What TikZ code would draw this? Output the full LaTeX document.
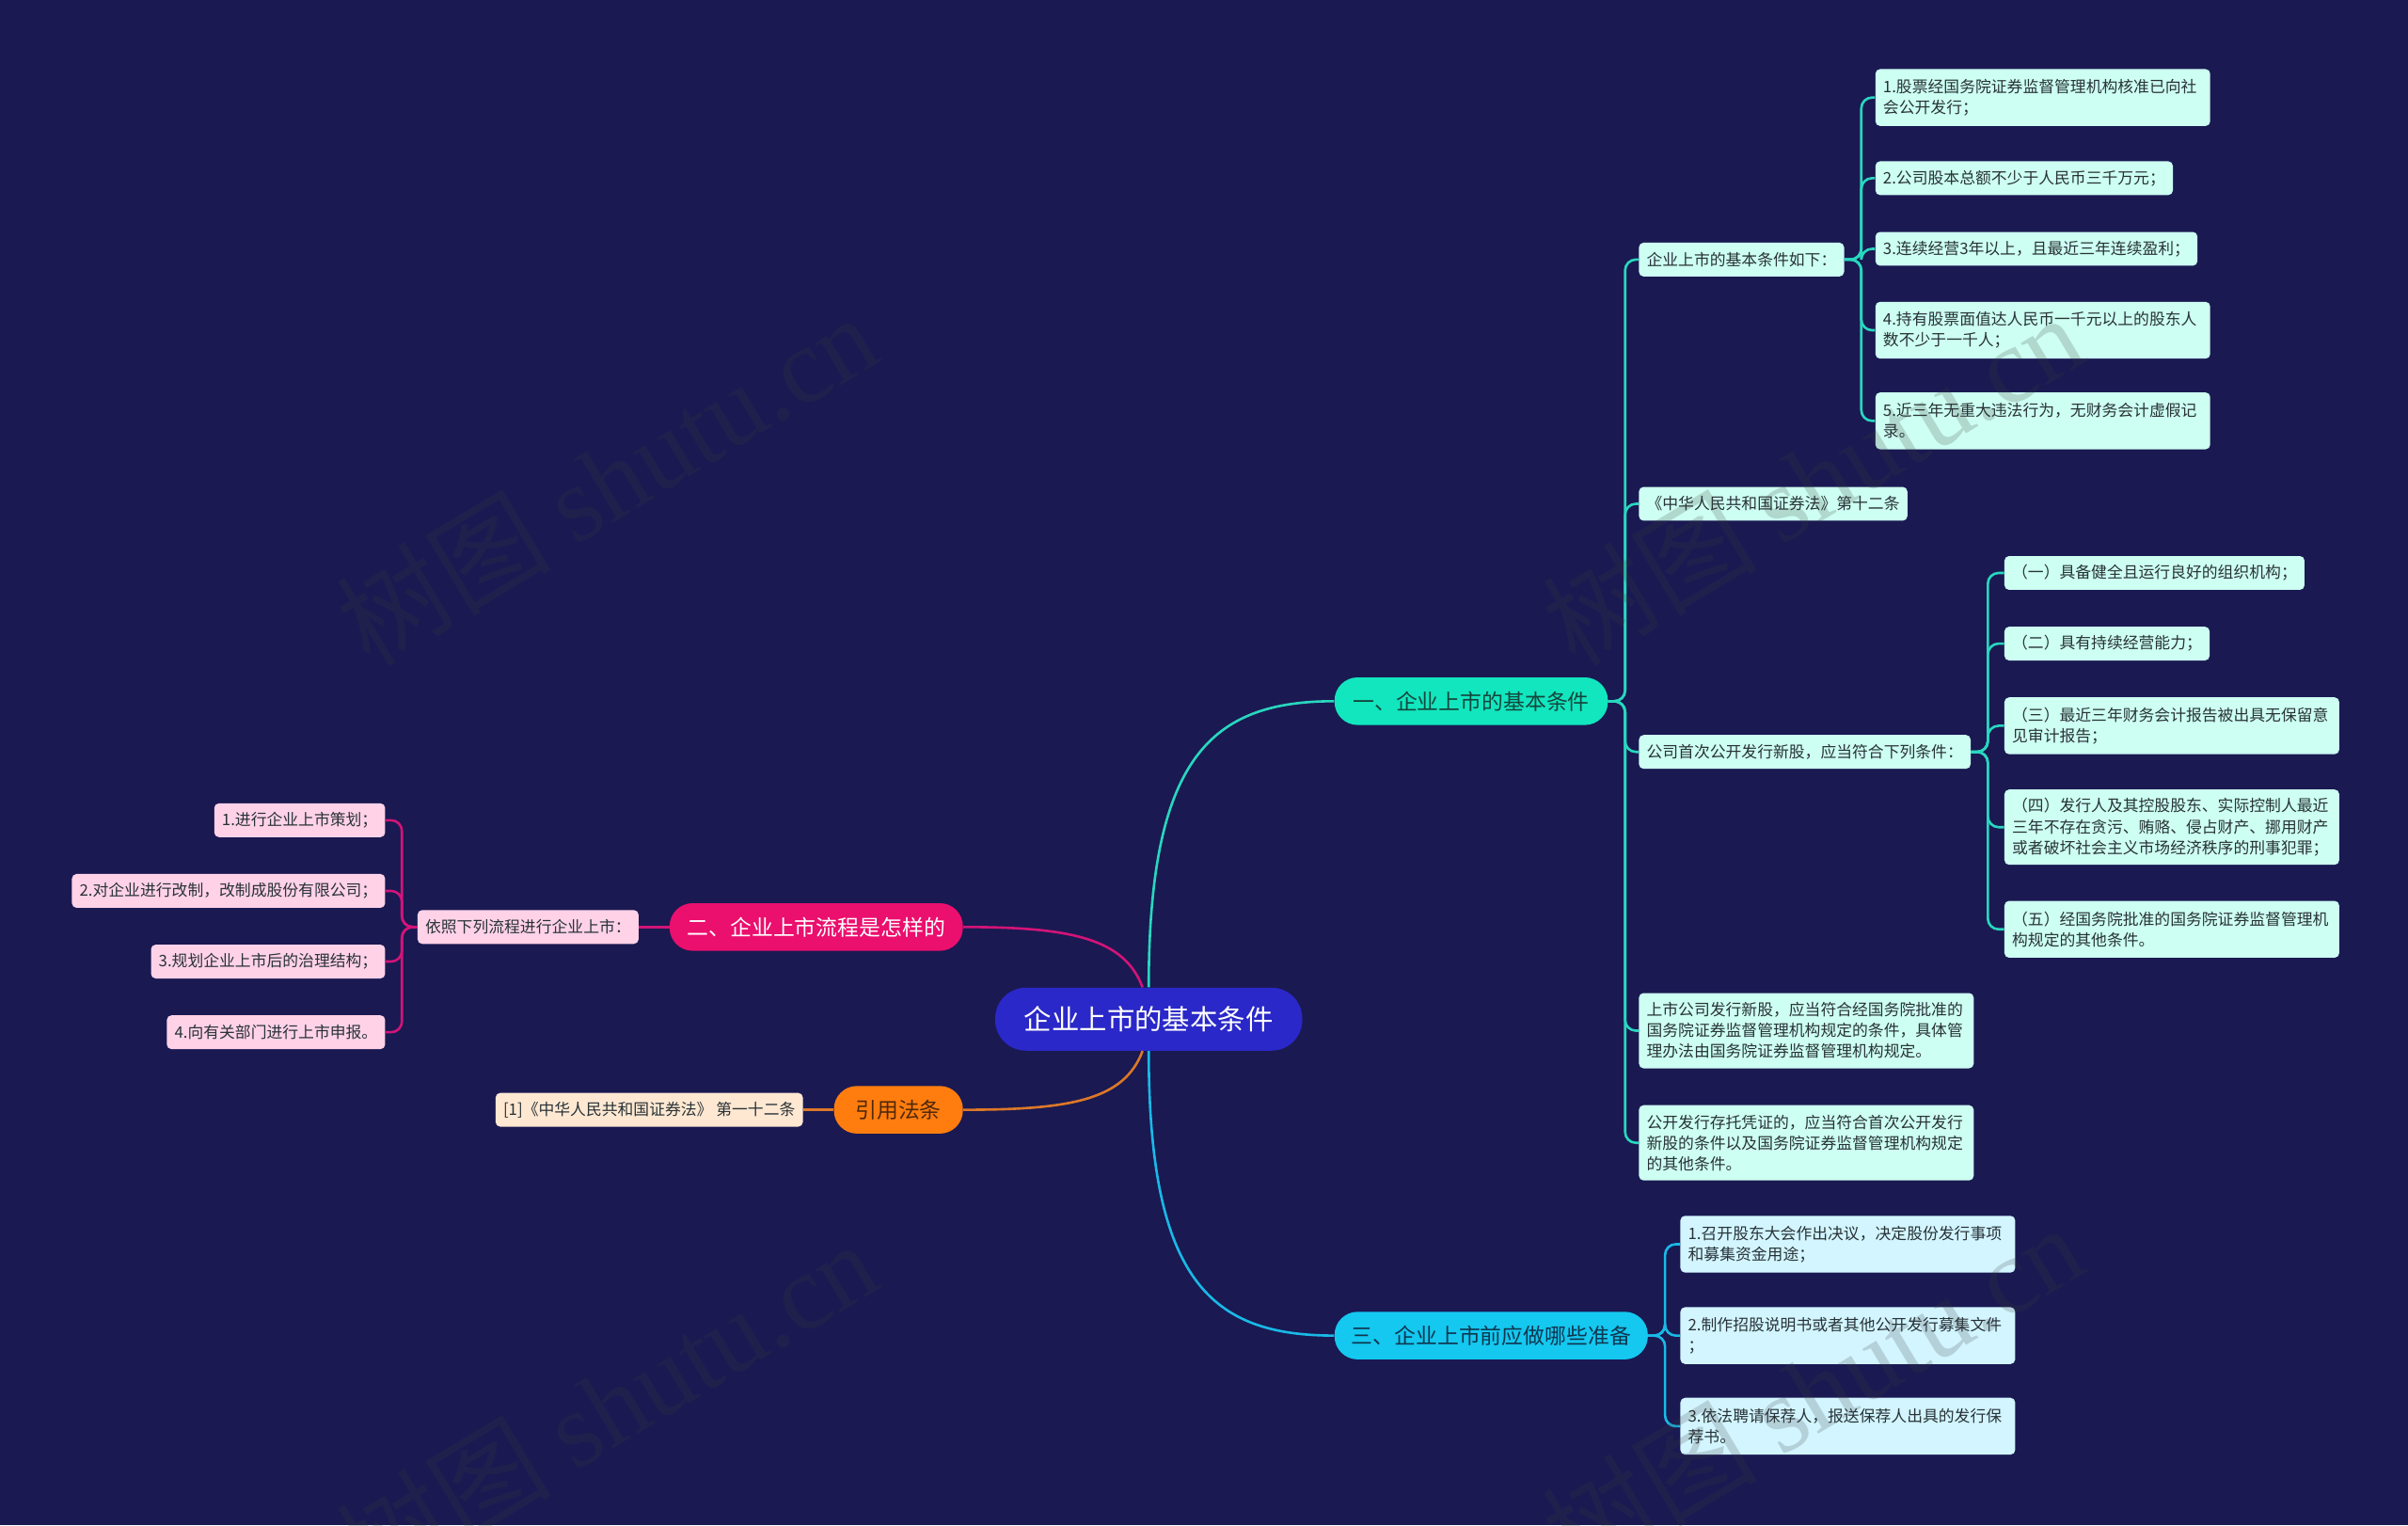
\documentclass[tikz,border=0pt]{standalone}
\usepackage{fontspec}
\setmainfont{Noto Sans CJK SC}
\newfontfamily\wmlatin{Liberation Serif}
\newfontfamily\wmcjk{Noto Sans CJK SC}
\definecolor{bgc}{RGB}{26,25,82}
\definecolor{rootfill}{RGB}{42,40,200}
\definecolor{afill}{RGB}{18,230,190}
\definecolor{atext}{RGB}{20,70,60}
\definecolor{aleaf}{RGB}{205,255,242}
\definecolor{aline}{RGB}{40,215,190}
\definecolor{dfill}{RGB}{20,200,240}
\definecolor{dtext}{RGB}{15,55,80}
\definecolor{dleaf}{RGB}{210,245,255}
\definecolor{dline}{RGB}{25,185,230}
\definecolor{bfill}{RGB}{235,15,110}
\definecolor{bleaf}{RGB}{255,210,232}
\definecolor{bline}{RGB}{210,20,120}
\definecolor{cfill}{RGB}{255,125,15}
\definecolor{ctext}{RGB}{80,40,10}
\definecolor{cleaf}{RGB}{255,232,210}
\definecolor{cline}{RGB}{220,120,40}
\definecolor{leaftext}{RGB}{40,50,55}
\definecolor{wmc}{RGB}{60,60,60}
\tikzset{
  rootbox/.style={fill=rootfill, text=white, rounded corners=20pt, minimum width=200pt, minimum height=41pt, font=\fontsize{18}{20}\selectfont},
  brbox/.style={rounded corners=15pt, minimum height=31pt, font=\fontsize{14}{16}\selectfont},
  leaf/.style={rounded corners=3pt, inner xsep=5pt, inner ysep=3pt, minimum height=22pt, text=leaftext, font=\fontsize{10.3}{13.5}\selectfont, align=left},
  two/.style={text width=208pt, minimum height=37pt},
  three/.style={text width=208pt, minimum height=49pt},
  conn/.style={line width=1.6pt, rounded corners=7pt},
  wm/.style={text=wmc, opacity=0.2, font=\fontsize{70}{72}\selectfont, rotate=31}
}
\begin{document}
\begin{tikzpicture}[x=1pt,y=-1pt]
\fill[bgc] (0,0) rectangle (1568,993);
\useasboundingbox (0,0) rectangle (1568,993);

% root and main branches
\node[rootbox] (root) at (748,663.5) {企业上市的基本条件};
\node[brbox, fill=afill, text=atext, minimum width=178pt] (b1) at (958,456.5) {一、企业上市的基本条件};
\node[brbox, fill=bfill, text=white, minimum width=191pt] (b2) at (531.5,603.5) {二、企业上市流程是怎样的};
\node[brbox, fill=cfill, text=ctext, minimum width=84pt] (b3) at (585,722.5) {引用法条};
\node[brbox, fill=dfill, text=dtext, minimum width=204pt] (b4) at (971,869.5) {三、企业上市前应做哪些准备};

% branch 1 children
\node[leaf, fill=aleaf, anchor=west] (a1) at (1067,169) {企业上市的基本条件如下：};
\node[leaf, fill=aleaf, anchor=west] (a2) at (1067,328) {《中华人民共和国证券法》第十二条};
\node[leaf, fill=aleaf, anchor=west] (a3) at (1067,489.5) {公司首次公开发行新股，应当符合下列条件：};
\node[leaf, three, fill=aleaf, anchor=west] (a4) at (1067,671) {上市公司发行新股，应当符合经国务院批准的\\国务院证券监督管理机构规定的条件，具体管\\理办法由国务院证券监督管理机构规定。};
\node[leaf, three, fill=aleaf, anchor=west] (a5) at (1067,744) {公开发行存托凭证的，应当符合首次公开发行\\新股的条件以及国务院证券监督管理机构规定\\的其他条件。};

\node[leaf, two, fill=aleaf, anchor=west] (a11) at (1221,63.5) {1.股票经国务院证券监督管理机构核准已向社\\会公开发行；};
\node[leaf, fill=aleaf, anchor=west] (a12) at (1221,116) {2.公司股本总额不少于人民币三千万元；};
\node[leaf, fill=aleaf, anchor=west] (a13) at (1221,162) {3.连续经营3年以上，且最近三年连续盈利；};
\node[leaf, two, fill=aleaf, anchor=west] (a14) at (1221,215) {4.持有股票面值达人民币一千元以上的股东人\\数不少于一千人；};
\node[leaf, two, fill=aleaf, anchor=west] (a15) at (1221,274) {5.近三年无重大违法行为，无财务会计虚假记\\录。};

\node[leaf, fill=aleaf, anchor=west] (a31) at (1305,373) {（一）具备健全且运行良好的组织机构；};
\node[leaf, fill=aleaf, anchor=west] (a32) at (1305,419) {（二）具有持续经营能力；};
\node[leaf, two, fill=aleaf, anchor=west] (a33) at (1305,472.5) {（三）最近三年财务会计报告被出具无保留意\\见审计报告；};
\node[leaf, three, fill=aleaf, anchor=west] (a34) at (1305,538.5) {（四）发行人及其控股股东、实际控制人最近\\三年不存在贪污、贿赂、侵占财产、挪用财产\\或者破坏社会主义市场经济秩序的刑事犯罪；};
\node[leaf, two, fill=aleaf, anchor=west] (a35) at (1305,605) {（五）经国务院批准的国务院证券监督管理机\\构规定的其他条件。};

% branch 3 (right bottom) children
\node[leaf, two, fill=dleaf, anchor=west] (d1) at (1094,810) {1.召开股东大会作出决议，决定股份发行事项\\和募集资金用途；};
\node[leaf, two, fill=dleaf, anchor=west] (d2) at (1094,869.5) {2.制作招股说明书或者其他公开发行募集文件\\；};
\node[leaf, two, fill=dleaf, anchor=west] (d3) at (1094,928.5) {3.依法聘请保荐人，报送保荐人出具的发行保\\荐书。};

% branch 2 children
\node[leaf, fill=bleaf, anchor=east] (p0) at (416,603.5) {依照下列流程进行企业上市：};
\node[leaf, fill=bleaf, anchor=east] (p1) at (251,534) {1.进行企业上市策划；};
\node[leaf, fill=bleaf, anchor=east] (p2) at (251,580) {2.对企业进行改制，改制成股份有限公司；};
\node[leaf, fill=bleaf, anchor=east] (p3) at (251,626) {3.规划企业上市后的治理结构；};
\node[leaf, fill=bleaf, anchor=east] (p4) at (251,672) {4.向有关部门进行上市申报。};

% citation
\node[leaf, fill=cleaf, anchor=east] (r1) at (523,722.5) {[1]《中华人民共和国证券法》 第一十二条};

% main curves
\draw[line width=1.6pt, aline] (root.north) .. controls +(0,-150) and +(-80,0) .. (b1.west);
\draw[line width=1.6pt, bline] ([xshift=-4pt]root.north) .. controls +(-12,-32) and +(70,0) .. (b2.east);
\draw[line width=1.6pt, cline] ([xshift=-4pt]root.south) .. controls +(-12,32) and +(70,0) .. (b3.east);
\draw[line width=1.6pt, dline] (root.south) .. controls +(0,150) and +(-80,0) .. (b4.west);

% branch connectors
\foreach \n in {a1,a2,a3,a4,a5} \draw[conn, aline] (b1.east) -- ++(11,0) |- (\n.west);
\foreach \n in {a11,a12,a13,a14,a15} \draw[conn, aline] (a1.east) -- ++(11,0) |- (\n.west);
\foreach \n in {a31,a32,a33,a34,a35} \draw[conn, aline] (a3.east) -- ++(11,0) |- (\n.west);
\foreach \n in {d1,d2,d3} \draw[conn, dline] (b4.east) -- ++(11,0) |- (\n.west);
\draw[conn, bline] (b2.west) -- (p0.east);
\foreach \n in {p1,p2,p3,p4} \draw[conn, bline] (p0.west) -- ++(-10,0) |- (\n.east);
\draw[conn, cline] (b3.west) -- (r1.east);

% watermarks
\node[wm] (w1) at (395,312) {\wmcjk 树图 \wmlatin shutu.cn};
\node[wm] (w2) at (1180,312) {\wmcjk 树图 \wmlatin shutu.cn};
\node[wm] (w3) at (395,915) {\wmcjk 树图 \wmlatin shutu.cn};
\node[wm] (w4) at (1180,905) {\wmcjk 树图 \wmlatin shutu.cn};
\end{tikzpicture}
\end{document}
